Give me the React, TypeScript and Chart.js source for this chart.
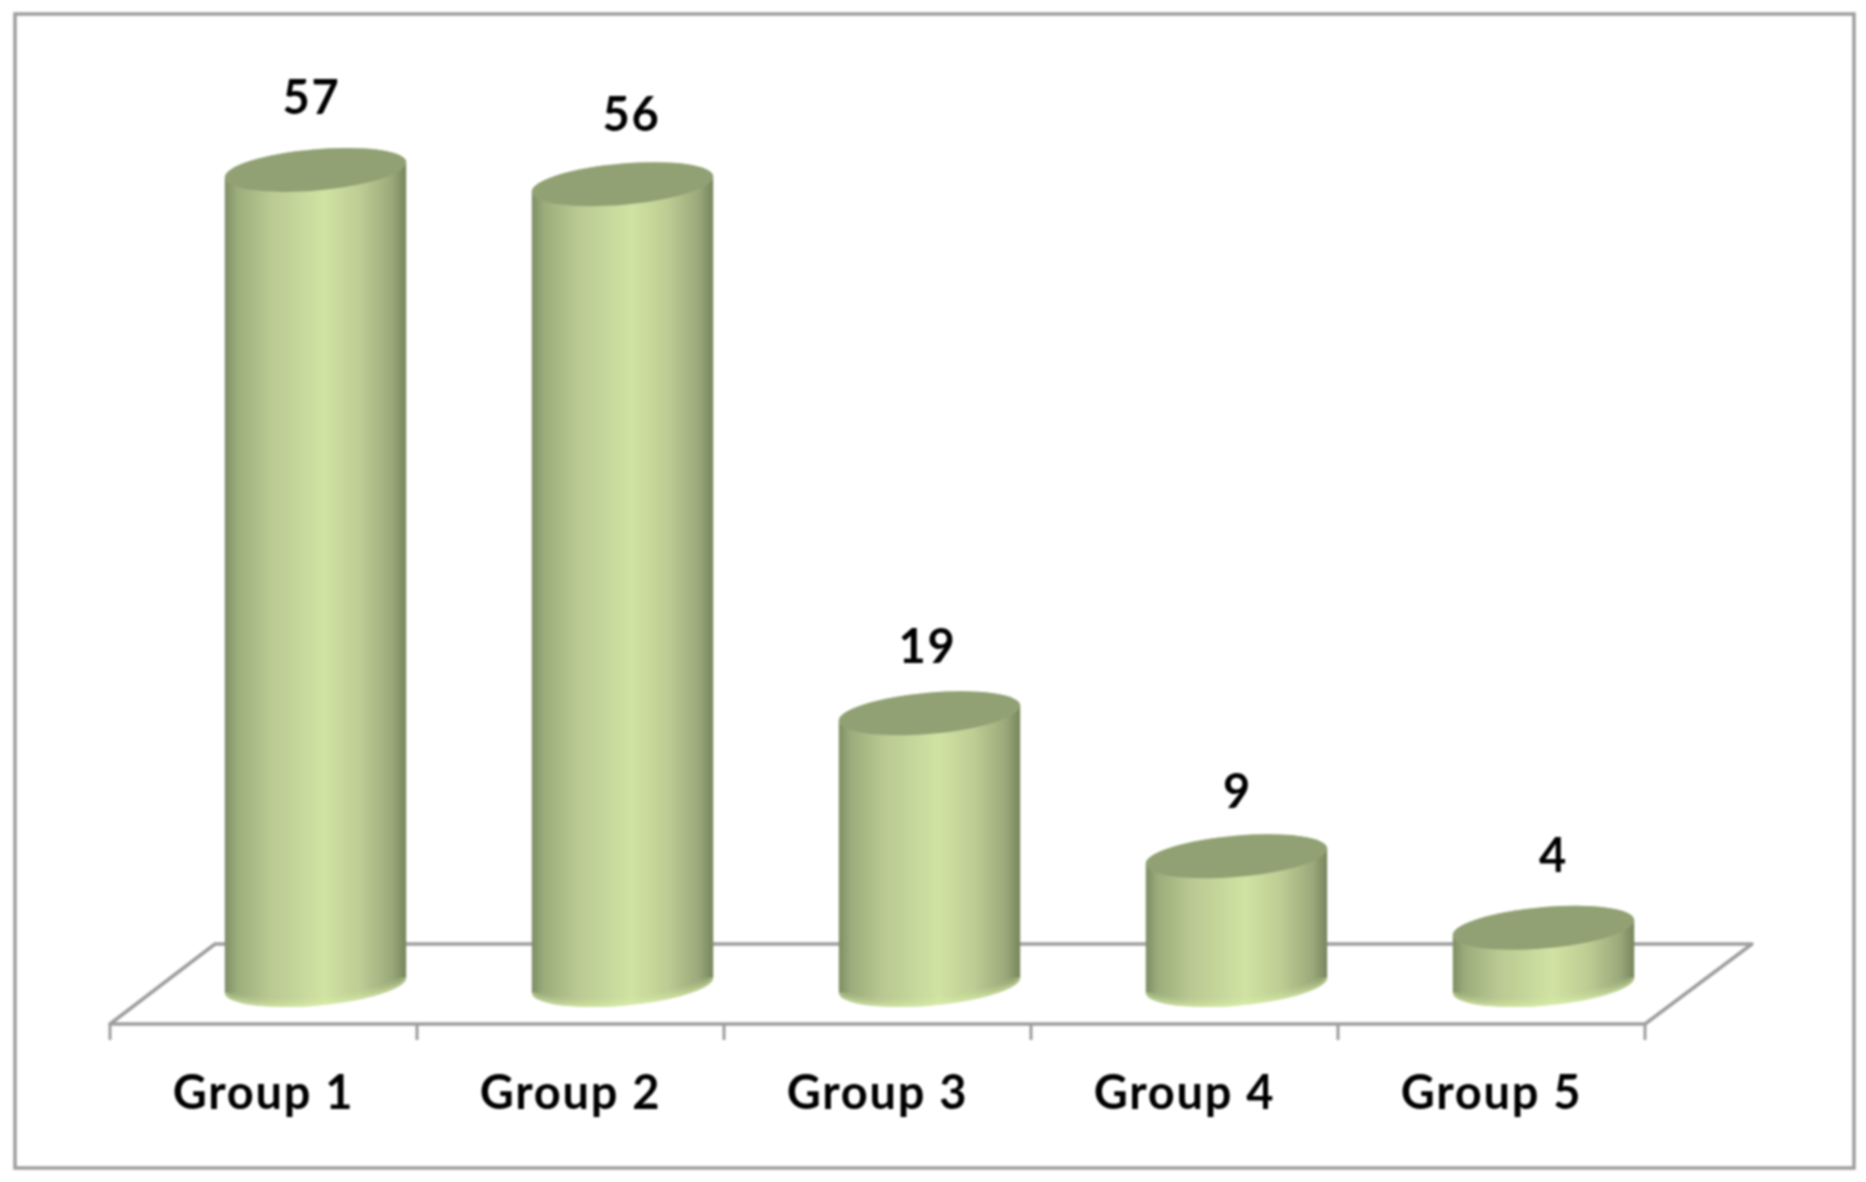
import React, { useEffect, useRef } from "react";
import { Chart, registerables } from "chart.js";

Chart.register(...registerables);

const categories = ["Group 1", "Group 2", "Group 3", "Group 4", "Group 5"];
const counts = [57, 56, 19, 9, 4];
const valueLabelNudgeX = [-4, 9, -2, 1, 10];
const valueLabelNudgeY = [-71, -68, -65, -63, -71];

const FONT = "Lato, Carlito, sans-serif";
const LINE = "#9e9e9e";
const DEPTH_X = 52;
const TILT = (-5 * Math.PI) / 180;
const MINOR = 20.6;

const scenePlugin = {
  id: "scene",
  beforeDraw(chart: any) {
    const { ctx, width, height } = chart;
    ctx.save();
    ctx.fillStyle = "#ffffff";
    ctx.fillRect(0, 0, width, height);
    ctx.strokeStyle = LINE;
    ctx.lineWidth = 3.5;
    ctx.strokeRect(15, 14, 1839, 1154);
    ctx.restore();
    ctx.letterSpacing = "1.7px";
  },
  beforeDatasetsDraw(chart: any) {
    const { ctx, scales } = chart;
    const x = scales.x;
    const zero = scales.y.getPixelForValue(0);
    const front = zero + 39;
    const back = zero - 41;
    ctx.save();
    ctx.strokeStyle = LINE;
    ctx.lineWidth = 3.5;
    ctx.lineJoin = "round";
    ctx.beginPath();
    ctx.moveTo(x.left, front);
    ctx.lineTo(x.left + 105, back);
    ctx.lineTo(x.right + 107, back);
    ctx.lineTo(x.right, front);
    ctx.closePath();
    ctx.stroke();
    const step = (x.right - x.left) / categories.length;
    ctx.lineWidth = 3;
    ctx.beginPath();
    for (let i = 0; i <= categories.length; i++) {
      const px = x.left + i * step;
      ctx.moveTo(px, front);
      ctx.lineTo(px, front + 16);
    }
    ctx.stroke();
    ctx.restore();
  },
  afterDatasetsDraw(chart: any) {
    const { ctx } = chart;
    const bars = chart.getDatasetMeta(0).data;
    bars.forEach((bar: any, i: number) => {
      const cx = bar.x + DEPTH_X;
      const a = bar.width / 2;
      const top = bar.y;
      const bottom = bar.base;
      const t0 = Math.atan2(-MINOR * Math.sin(TILT), a * Math.cos(TILT));
      const g = ctx.createLinearGradient(cx - a, 0, cx + a, 0);
      g.addColorStop(0, "#7e8d64");
      g.addColorStop(0.07, "#9cad7c");
      g.addColorStop(0.25, "#b9c992");
      g.addColorStop(0.55, "#d0e3a2");
      g.addColorStop(0.75, "#bdcc93");
      g.addColorStop(0.92, "#9aa97a");
      g.addColorStop(1, "#76845c");
      ctx.save();
      ctx.beginPath();
      ctx.ellipse(cx, bottom, a, MINOR, TILT, t0, t0 + Math.PI, false);
      ctx.ellipse(cx, top, a, MINOR, TILT, t0 + Math.PI, t0 + 2 * Math.PI, false);
      ctx.closePath();
      ctx.fillStyle = g;
      ctx.fill();
      ctx.clip();
      // lighter rim along the lower edge of the cylinder
      ctx.lineCap = "butt";
      for (const [w, alpha] of [
        [16, 0.12],
        [10, 0.18],
        [5, 0.3],
      ]) {
        ctx.beginPath();
        ctx.ellipse(cx, bottom, a, MINOR, TILT, t0, t0 + Math.PI, false);
        ctx.strokeStyle = `rgba(222,245,170,${alpha})`;
        ctx.lineWidth = w;
        ctx.stroke();
      }
      ctx.restore();

      ctx.save();
      ctx.beginPath();
      ctx.ellipse(cx, top, a, MINOR, TILT, 0, 2 * Math.PI);
      ctx.fillStyle = "#91a174";
      ctx.fill();
      ctx.fillStyle = "#000000";
      ctx.font = `bold 47px ${FONT}`;
      ctx.textAlign = "center";
      ctx.textBaseline = "middle";
      ctx.fillText(String(counts[i]), cx + valueLabelNudgeX[i], top + valueLabelNudgeY[i]);
      ctx.restore();
    });
  },
};

export default function App() {
  const ref = useRef<HTMLCanvasElement>(null);
  useEffect(() => {
    const canvas = ref.current as HTMLCanvasElement;
    const chart = new Chart(canvas, {
      type: "bar",
      data: {
        labels: categories,
        datasets: [
          {
            data: counts,
            backgroundColor: "rgba(0,0,0,0)",
            barPercentage: 0.593,
            categoryPercentage: 1,
          },
        ],
      },
      options: {
        animation: false,
        responsive: false,
        layout: { padding: { left: 110, right: 221, top: 55.5, bottom: 0 } },
        plugins: { legend: { display: false }, tooltip: { enabled: false }, title: { display: false } },
        scales: {
          y: { display: false, min: 0, max: 65, grid: { display: false } },
          x: {
            border: { display: false },
            grid: { display: false, drawTicks: false },
            afterFit(scale: any) {
              scale.height = 197;
            },
            ticks: {
              color: "#000000",
              padding: 81,
              maxRotation: 0,
              font: { family: FONT, weight: "bold", size: 47 },
            },
          },
        },
      },
      plugins: [scenePlugin],
    } as any);
    return () => chart.destroy();
  }, []);
  return (
    <div style={{ position: "absolute", left: 0, top: 0, width: 1866, height: 1182 }}>
      <canvas ref={ref} width={1866} height={1182} style={{ display: "block", filter: "blur(1px)" }} />
    </div>
  );
}
